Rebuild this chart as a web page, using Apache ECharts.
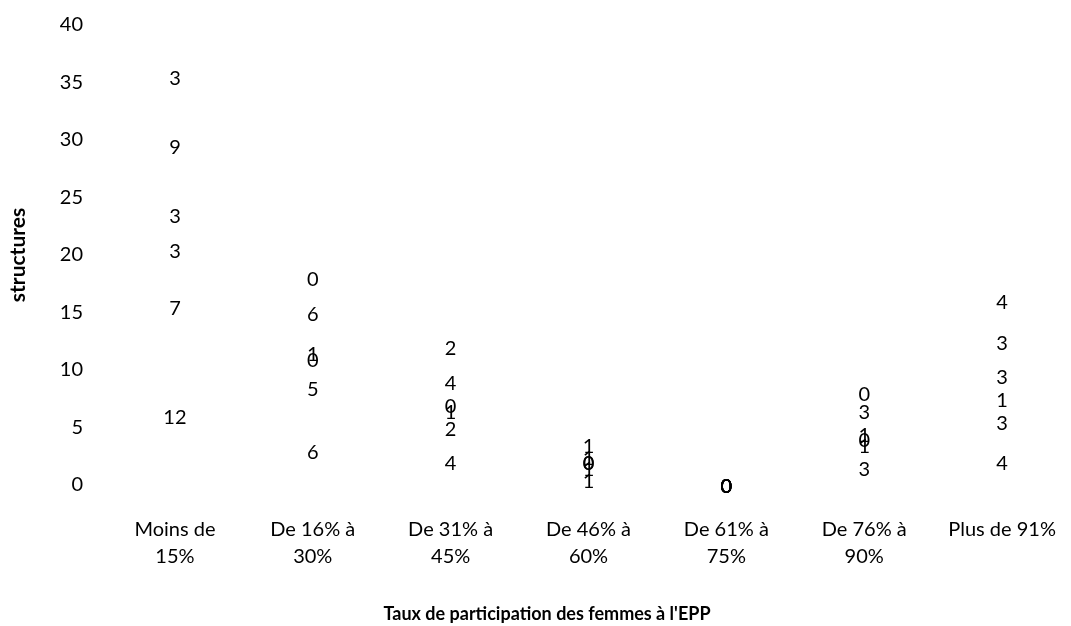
<!DOCTYPE html>
<html>
<head>
<meta charset="utf-8">
<script src="https://cdn.jsdelivr.net/npm/echarts@6/dist/echarts.min.js"></script>
<style>
html,body{margin:0;padding:0;background:#fff;}
#c{width:1071px;height:626px;}
</style>
</head>
<body>
<div id="c"></div>
<script>
const categories = ["Moins de\n15%", "De 16% à\n30%", "De 31% à\n45%", "De 46% à\n60%", "De 61% à\n75%", "De 76% à\n90%", "Plus de 91%"];
const s1 = [12, 6, 4, 1, 0, 3, 4];
const s2 = [7, 5, 2, 1, 0, 1, 3];
const s3 = [3, 0, 1, 0, 0, 0, 1];
const s4 = [3, 1, 0, 0, 0, 1, 3];
const s5 = [9, 6, 4, 1, 0, 3, 3];
const s6 = [3, 0, 2, 1, 0, 0, 4];
const yTicks = [0, 5, 10, 15, 20, 25, 30, 35, 40];
const xTitle = "Taux de participation des femmes à l'EPP";
const yTitle = "structures";

const FONT = "Lato";
const allSeries = [s1, s2, s3, s4, s5, s6];
const chart = echarts.init(document.getElementById('c'));
chart.setOption({
  animation: false,
  backgroundColor: '#fff',
  textStyle: {fontFamily: FONT},
  title: {
    text: xTitle,
    left: 542, top: 600,
    textAlign: 'center',
    textStyle: {fontFamily: FONT, fontWeight: 'bold', fontSize: 18, color: '#000'}
  },
  grid: {left: 103, top: 25, width: 970, height: 460},
  xAxis: {
    type: 'category',
    data: categories,
    axisLine: {show: false},
    axisTick: {show: false},
    axisLabel: {color: '#000', fontSize: 20, fontFamily: FONT, margin: 31, lineHeight: 27, interval: 0}
  },
  yAxis: {
    type: 'value',
    min: yTicks[0], max: yTicks[yTicks.length - 1], interval: 5,
    axisLine: {show: false},
    axisTick: {show: false},
    splitLine: {show: false},
    axisLabel: {color: '#000', fontSize: 20, fontFamily: FONT, margin: 23},
    name: yTitle,
    nameLocation: 'middle',
    nameGap: 77,
    nameRotate: 90,
    nameTextStyle: {fontWeight: 'bold', fontSize: 21, color: '#000', fontFamily: FONT}
  },
  series: allSeries.map((d, i) => ({
    type: 'bar',
    name: 'S' + (i + 1),
    stack: 'total',
    data: d,
    barWidth: '40%',
    itemStyle: {color: 'rgba(0,0,0,0)'},
    label: {
      show: true,
      position: 'inside',
      color: '#000',
      fontSize: 20,
      fontFamily: FONT,
      offset: [0, 2],
      formatter: p => String(p.value)
    }
  }))
});
</script>
</body>
</html>
